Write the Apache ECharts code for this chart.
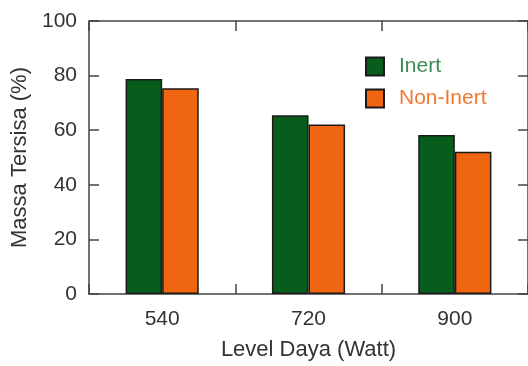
<!DOCTYPE html>
<html>
<head>
<meta charset="utf-8">
<script src="https://cdn.jsdelivr.net/npm/echarts@6/dist/echarts.min.js"></script>
<style>
html,body{margin:0;padding:0;background:#fff;}
#c{width:528px;height:366px;}
</style>
</head>
<body>
<div id="c"></div>
<script>
const categories = ['540', '720', '900'];
const inert = [78.8, 65.5, 58.2];
const nonInert = [75.4, 62.1, 52.1];
const yTicks = [0, 20, 40, 60, 80, 100];

const FONT = '"Liberation Sans", Arial, sans-serif';
const AXC = '#444';
const chart = echarts.init(document.getElementById('c'), null, {renderer: 'canvas'});
const axisLine = () => ({show: true, onZero: false, lineStyle: {color: AXC, width: 1.5}});
const tick = () => ({show: true, inside: true, length: 10, lineStyle: {color: AXC, width: 1.5}});
chart.setOption({
  animation: false,
  backgroundColor: '#fff',
  grid: {left: 89, top: 21, width: 441, height: 275},
  legend: {
    orient: 'vertical', left: 360, top: 51, itemWidth: 18, itemHeight: 18, itemGap: 11,
    icon: 'rect',
    data: [
      {name: 'Inert', textStyle: {color: '#3d8a55'}},
      {name: 'Non-Inert', textStyle: {color: '#f2772e'}}
    ],
    textStyle: {fontFamily: FONT, fontSize: 21, padding: [0, 0, 0, 10]}
  },
  xAxis: [{
    type: 'category', data: categories, position: 'bottom',
    axisLine: axisLine(), axisTick: tick(),
    axisLabel: {fontFamily: FONT, fontSize: 21, color: '#333', margin: 15},
    name: 'Level Daya (Watt)', nameLocation: 'middle', nameGap: 45,
    nameTextStyle: {fontFamily: FONT, fontSize: 22, color: '#333'},
    splitLine: {show: false}
  }, {
    type: 'category', data: categories, position: 'top',
    axisLine: axisLine(), axisTick: tick(), axisLabel: {show: false}, splitLine: {show: false}
  }],
  yAxis: [{
    type: 'value', min: yTicks[0], max: yTicks[yTicks.length - 1], interval: 20, position: 'left',
    axisLine: axisLine(), axisTick: tick(),
    axisLabel: {fontFamily: FONT, fontSize: 21, color: '#333', margin: 12},
    name: 'Massa Tersisa (%)', nameLocation: 'middle', nameGap: 56,
    nameTextStyle: {fontFamily: FONT, fontSize: 22, color: '#333'},
    splitLine: {show: false}
  }, {
    type: 'value', min: yTicks[0], max: yTicks[yTicks.length - 1], interval: 20, position: 'right',
    axisLine: axisLine(), axisTick: tick(), axisLabel: {show: false}, splitLine: {show: false}
  }],
  series: [{
    name: 'Inert', type: 'bar', data: inert, barWidth: '25%', barGap: '0%',
    itemStyle: {color: '#075e1c', borderColor: '#1a1a1a', borderWidth: 1.5}
  }, {
    name: 'Non-Inert', type: 'bar', data: nonInert, barWidth: '25%', barGap: '0%',
    itemStyle: {color: '#f0650f', borderColor: '#1a1a1a', borderWidth: 1.5}
  }]
});
</script>
</body>
</html>
